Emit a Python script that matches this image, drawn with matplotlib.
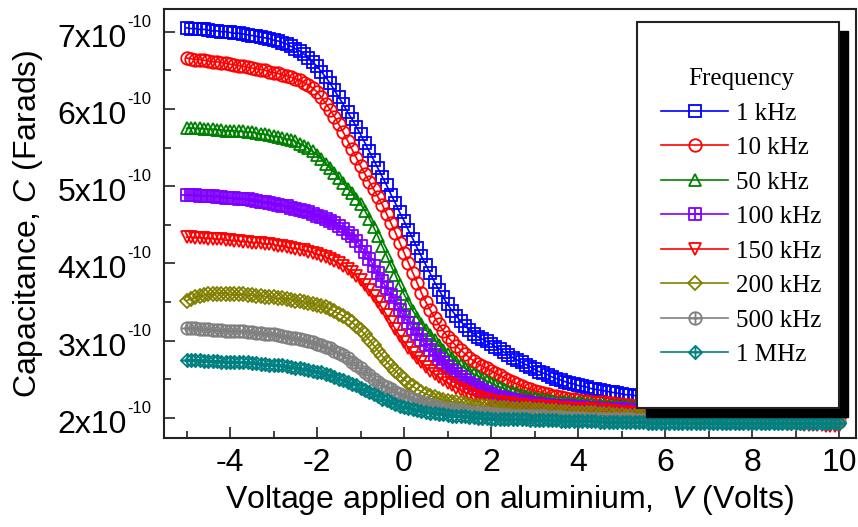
import numpy as np
import matplotlib
matplotlib.use("Agg")
import matplotlib.pyplot as plt
from matplotlib.path import Path
from matplotlib.patches import Rectangle
from matplotlib.ticker import MultipleLocator, FuncFormatter, NullFormatter

plt.rcParams["font.family"] = "Liberation Sans"
plt.rcParams["mathtext.fontset"] = "custom"
plt.rcParams["mathtext.rm"] = "Liberation Sans"
plt.rcParams["mathtext.it"] = "Liberation Sans:italic"
plt.rcParams["axes.unicode_minus"] = False

# gate sweep, -5 V to 10 V in 0.1 V steps
voltage = np.linspace(-5, 10, 151)

# capacitance, in units of 1e-10 F
cap_1k = [
    7.05, 7.04, 7.04, 7.03, 7.03, 7.02, 7.01, 7.01, 7.00, 7.00,
    6.99, 6.98, 6.98, 6.97, 6.96, 6.95, 6.94, 6.93, 6.92, 6.91,
    6.89, 6.88, 6.86, 6.84, 6.81, 6.78, 6.75, 6.71, 6.66, 6.61,
    6.55, 6.48, 6.41, 6.33, 6.24, 6.15, 6.06, 5.96, 5.87, 5.77,
    5.67, 5.56, 5.45, 5.34, 5.23, 5.12, 5.01, 4.89, 4.78, 4.66,
    4.55, 4.43, 4.32, 4.20, 4.09, 3.98, 3.87, 3.76, 3.66, 3.56,
    3.47, 3.39, 3.32, 3.25, 3.19, 3.14, 3.09, 3.05, 3.02, 2.99,
    2.96, 2.92, 2.89, 2.85, 2.82, 2.78, 2.75, 2.72, 2.69, 2.66,
    2.63, 2.60, 2.58, 2.56, 2.53, 2.51, 2.49, 2.47, 2.45, 2.44,
    2.42, 2.41, 2.40, 2.38, 2.37, 2.36, 2.35, 2.34, 2.33, 2.32,
    2.31, 2.30, 2.30, 2.29, 2.28, 2.28, 2.27, 2.27, 2.26, 2.26,
    2.25, 2.25, 2.24, 2.24, 2.23, 2.23, 2.23, 2.22, 2.22, 2.21,
    2.21, 2.21, 2.20, 2.20, 2.19, 2.19, 2.19, 2.18, 2.18, 2.17,
    2.17, 2.17, 2.16, 2.16, 2.15, 2.15, 2.15, 2.14, 2.14, 2.13,
    2.13, 2.13, 2.12, 2.12, 2.12, 2.12, 2.11, 2.11, 2.11, 2.10,
    2.10]
cap_10k = [
    6.66, 6.65, 6.64, 6.64, 6.63, 6.62, 6.61, 6.61, 6.60, 6.59,
    6.58, 6.57, 6.56, 6.55, 6.54, 6.53, 6.52, 6.51, 6.50, 6.48,
    6.47, 6.46, 6.44, 6.43, 6.41, 6.39, 6.37, 6.34, 6.31, 6.27,
    6.22, 6.15, 6.07, 5.99, 5.90, 5.80, 5.70, 5.59, 5.48, 5.37,
    5.26, 5.16, 5.06, 4.96, 4.86, 4.76, 4.64, 4.52, 4.40, 4.27,
    4.14, 4.01, 3.88, 3.75, 3.62, 3.50, 3.40, 3.30, 3.21, 3.13,
    3.05, 2.99, 2.93, 2.88, 2.83, 2.78, 2.74, 2.70, 2.67, 2.64,
    2.61, 2.58, 2.55, 2.52, 2.49, 2.46, 2.44, 2.41, 2.39, 2.37,
    2.35, 2.34, 2.32, 2.31, 2.29, 2.28, 2.27, 2.26, 2.25, 2.24,
    2.23, 2.22, 2.22, 2.21, 2.21, 2.20, 2.20, 2.19, 2.19, 2.18,
    2.18, 2.17, 2.17, 2.16, 2.16, 2.15, 2.15, 2.14, 2.14, 2.13,
    2.13, 2.12, 2.12, 2.11, 2.11, 2.10, 2.10, 2.10, 2.09, 2.09,
    2.08, 2.08, 2.08, 2.07, 2.07, 2.07, 2.06, 2.06, 2.06, 2.05,
    2.05, 2.05, 2.05, 2.04, 2.04, 2.04, 2.04, 2.03, 2.03, 2.03,
    2.03, 2.03, 2.02, 2.02, 2.02, 2.02, 2.02, 2.02, 2.01, 2.01,
    2.01]
cap_50k = [
    5.75, 5.75, 5.75, 5.75, 5.74, 5.74, 5.74, 5.73, 5.73, 5.72,
    5.72, 5.72, 5.71, 5.71, 5.70, 5.70, 5.69, 5.68, 5.67, 5.66,
    5.65, 5.64, 5.63, 5.61, 5.60, 5.58, 5.55, 5.52, 5.49, 5.45,
    5.40, 5.35, 5.29, 5.23, 5.17, 5.10, 5.04, 4.97, 4.91, 4.84,
    4.77, 4.68, 4.58, 4.47, 4.35, 4.22, 4.10, 3.97, 3.85, 3.72,
    3.60, 3.49, 3.39, 3.30, 3.22, 3.14, 3.07, 3.01, 2.94, 2.88,
    2.83, 2.78, 2.73, 2.68, 2.64, 2.60, 2.57, 2.54, 2.51, 2.48,
    2.45, 2.42, 2.40, 2.38, 2.35, 2.33, 2.32, 2.30, 2.29, 2.27,
    2.26, 2.25, 2.24, 2.23, 2.22, 2.21, 2.21, 2.20, 2.20, 2.19,
    2.19, 2.19, 2.18, 2.18, 2.17, 2.17, 2.17, 2.16, 2.16, 2.15,
    2.15, 2.15, 2.14, 2.14, 2.13, 2.13, 2.13, 2.12, 2.12, 2.11,
    2.11, 2.11, 2.10, 2.10, 2.09, 2.09, 2.09, 2.08, 2.08, 2.07,
    2.07, 2.07, 2.06, 2.06, 2.06, 2.05, 2.05, 2.05, 2.04, 2.04,
    2.04, 2.04, 2.03, 2.03, 2.03, 2.03, 2.02, 2.02, 2.02, 2.02,
    2.02, 2.01, 2.01, 2.01, 2.01, 2.01, 2.00, 2.00, 2.00, 2.00,
    2.00]
cap_100k = [
    4.88, 4.88, 4.88, 4.87, 4.87, 4.87, 4.87, 4.86, 4.86, 4.85,
    4.85, 4.85, 4.84, 4.84, 4.83, 4.82, 4.81, 4.80, 4.79, 4.78,
    4.77, 4.76, 4.75, 4.74, 4.72, 4.71, 4.69, 4.68, 4.66, 4.64,
    4.62, 4.60, 4.58, 4.55, 4.52, 4.48, 4.44, 4.39, 4.35, 4.29,
    4.23, 4.15, 4.06, 3.97, 3.87, 3.77, 3.68, 3.59, 3.49, 3.40,
    3.31, 3.23, 3.15, 3.08, 3.01, 2.94, 2.88, 2.82, 2.76, 2.71,
    2.66, 2.61, 2.57, 2.53, 2.49, 2.45, 2.42, 2.39, 2.36, 2.33,
    2.31, 2.29, 2.27, 2.26, 2.24, 2.23, 2.22, 2.21, 2.20, 2.19,
    2.18, 2.18, 2.17, 2.17, 2.16, 2.16, 2.16, 2.15, 2.15, 2.14,
    2.14, 2.14, 2.13, 2.13, 2.13, 2.12, 2.12, 2.12, 2.11, 2.11,
    2.11, 2.10, 2.10, 2.10, 2.09, 2.09, 2.09, 2.08, 2.08, 2.08,
    2.07, 2.07, 2.07, 2.06, 2.06, 2.06, 2.05, 2.05, 2.05, 2.04,
    2.04, 2.04, 2.04, 2.03, 2.03, 2.03, 2.03, 2.02, 2.02, 2.02,
    2.02, 2.01, 2.01, 2.01, 2.01, 2.01, 2.00, 2.00, 2.00, 2.00,
    2.00, 1.99, 1.99, 1.99, 1.99, 1.99, 1.99, 1.98, 1.98, 1.98,
    1.98]
cap_150k = [
    4.34, 4.34, 4.33, 4.33, 4.33, 4.32, 4.32, 4.31, 4.31, 4.30,
    4.30, 4.29, 4.29, 4.28, 4.28, 4.27, 4.27, 4.26, 4.25, 4.25,
    4.24, 4.23, 4.22, 4.21, 4.20, 4.19, 4.18, 4.17, 4.15, 4.14,
    4.12, 4.10, 4.08, 4.06, 4.03, 4.00, 3.97, 3.93, 3.89, 3.84,
    3.79, 3.72, 3.65, 3.58, 3.50, 3.42, 3.33, 3.24, 3.15, 3.06,
    2.98, 2.91, 2.84, 2.78, 2.72, 2.66, 2.61, 2.57, 2.53, 2.49,
    2.45, 2.42, 2.39, 2.36, 2.33, 2.31, 2.29, 2.27, 2.25, 2.23,
    2.22, 2.21, 2.20, 2.19, 2.19, 2.18, 2.17, 2.17, 2.16, 2.16,
    2.15, 2.15, 2.14, 2.14, 2.14, 2.13, 2.13, 2.13, 2.12, 2.12,
    2.12, 2.11, 2.11, 2.11, 2.10, 2.10, 2.10, 2.09, 2.09, 2.08,
    2.08, 2.08, 2.07, 2.07, 2.06, 2.06, 2.05, 2.05, 2.04, 2.04,
    2.03, 2.03, 2.02, 2.02, 2.01, 2.01, 2.00, 2.00, 1.99, 1.99,
    1.98, 1.98, 1.98, 1.97, 1.97, 1.96, 1.96, 1.96, 1.95, 1.95,
    1.95, 1.94, 1.94, 1.94, 1.93, 1.93, 1.93, 1.93, 1.92, 1.92,
    1.92, 1.92, 1.91, 1.91, 1.91, 1.91, 1.91, 1.90, 1.90, 1.90,
    1.90]
cap_200k = [
    3.52, 3.54, 3.56, 3.58, 3.59, 3.60, 3.60, 3.61, 3.61, 3.61,
    3.60, 3.60, 3.60, 3.60, 3.59, 3.59, 3.58, 3.58, 3.57, 3.57,
    3.56, 3.55, 3.55, 3.54, 3.53, 3.52, 3.51, 3.50, 3.49, 3.48,
    3.46, 3.45, 3.43, 3.41, 3.38, 3.35, 3.32, 3.28, 3.24, 3.19,
    3.14, 3.08, 3.01, 2.94, 2.87, 2.80, 2.73, 2.67, 2.61, 2.55,
    2.50, 2.45, 2.41, 2.37, 2.34, 2.31, 2.29, 2.27, 2.25, 2.23,
    2.22, 2.21, 2.20, 2.19, 2.18, 2.17, 2.16, 2.16, 2.15, 2.15,
    2.14, 2.14, 2.13, 2.13, 2.13, 2.12, 2.12, 2.11, 2.11, 2.11,
    2.10, 2.10, 2.10, 2.09, 2.09, 2.09, 2.08, 2.08, 2.08, 2.07,
    2.07, 2.07, 2.06, 2.06, 2.06, 2.05, 2.05, 2.05, 2.04, 2.04,
    2.04, 2.03, 2.03, 2.03, 2.02, 2.02, 2.02, 2.01, 2.01, 2.01,
    2.00, 2.00, 2.00, 2.00, 1.99, 1.99, 1.99, 1.99, 1.98, 1.98,
    1.98, 1.98, 1.98, 1.97, 1.97, 1.97, 1.97, 1.97, 1.97, 1.96,
    1.96, 1.96, 1.96, 1.96, 1.96, 1.96, 1.96, 1.95, 1.95, 1.95,
    1.95, 1.95, 1.95, 1.95, 1.95, 1.95, 1.95, 1.95, 1.95, 1.95,
    1.95]
cap_500k = [
    3.16, 3.16, 3.16, 3.15, 3.15, 3.15, 3.14, 3.14, 3.14, 3.13,
    3.13, 3.13, 3.12, 3.12, 3.11, 3.11, 3.10, 3.10, 3.09, 3.09,
    3.08, 3.07, 3.06, 3.05, 3.04, 3.03, 3.02, 3.01, 2.99, 2.98,
    2.96, 2.94, 2.92, 2.90, 2.87, 2.84, 2.81, 2.77, 2.73, 2.68,
    2.64, 2.60, 2.55, 2.51, 2.47, 2.43, 2.40, 2.37, 2.34, 2.31,
    2.29, 2.27, 2.25, 2.23, 2.21, 2.19, 2.17, 2.16, 2.14, 2.13,
    2.12, 2.11, 2.10, 2.10, 2.09, 2.08, 2.07, 2.07, 2.06, 2.06,
    2.05, 2.05, 2.04, 2.04, 2.04, 2.03, 2.03, 2.03, 2.03, 2.02,
    2.02, 2.02, 2.02, 2.01, 2.01, 2.01, 2.01, 2.00, 2.00, 2.00,
    2.00, 2.00, 1.99, 1.99, 1.99, 1.99, 1.99, 1.98, 1.98, 1.98,
    1.98, 1.98, 1.98, 1.97, 1.97, 1.97, 1.97, 1.97, 1.97, 1.97,
    1.96, 1.96, 1.96, 1.96, 1.96, 1.96, 1.96, 1.96, 1.96, 1.96,
    1.96, 1.96, 1.96, 1.95, 1.95, 1.95, 1.95, 1.95, 1.95, 1.95,
    1.95, 1.95, 1.95, 1.95, 1.95, 1.95, 1.95, 1.95, 1.95, 1.95,
    1.95, 1.95, 1.95, 1.95, 1.95, 1.95, 1.95, 1.95, 1.95, 1.95,
    1.95]
cap_1M = [
    2.75, 2.75, 2.75, 2.75, 2.74, 2.74, 2.74, 2.74, 2.73, 2.73,
    2.73, 2.73, 2.72, 2.72, 2.72, 2.71, 2.71, 2.70, 2.70, 2.69,
    2.69, 2.68, 2.68, 2.67, 2.66, 2.65, 2.64, 2.63, 2.62, 2.61,
    2.60, 2.59, 2.57, 2.55, 2.53, 2.51, 2.49, 2.46, 2.44, 2.42,
    2.39, 2.36, 2.33, 2.31, 2.28, 2.25, 2.23, 2.20, 2.18, 2.16,
    2.14, 2.13, 2.11, 2.10, 2.09, 2.08, 2.07, 2.06, 2.05, 2.05,
    2.04, 2.03, 2.03, 2.02, 2.02, 2.01, 2.01, 2.00, 2.00, 2.00,
    1.99, 1.99, 1.99, 1.99, 1.98, 1.98, 1.98, 1.98, 1.98, 1.97,
    1.97, 1.97, 1.97, 1.97, 1.97, 1.97, 1.96, 1.96, 1.96, 1.96,
    1.96, 1.96, 1.96, 1.96, 1.96, 1.95, 1.95, 1.95, 1.95, 1.95,
    1.95, 1.95, 1.95, 1.95, 1.95, 1.95, 1.94, 1.94, 1.94, 1.94,
    1.94, 1.94, 1.94, 1.94, 1.94, 1.94, 1.94, 1.94, 1.94, 1.94,
    1.94, 1.94, 1.94, 1.94, 1.94, 1.93, 1.93, 1.93, 1.93, 1.93,
    1.93, 1.93, 1.93, 1.93, 1.93, 1.93, 1.93, 1.93, 1.93, 1.93,
    1.93, 1.93, 1.93, 1.93, 1.93, 1.93, 1.93, 1.93, 1.93, 1.93,
    1.93]

labels = ["1 kHz", "10 kHz", "50 kHz", "100 kHz", "150 kHz", "200 kHz", "500 kHz", "1 MHz"]
series = [cap_1k, cap_10k, cap_50k, cap_100k, cap_150k, cap_200k, cap_500k, cap_1M]
colors = ["#0000FF", "#FF0000", "#008000", "#8000FF", "#FF0000", "#808000", "#808080", "#008080"]

ytick_vals = [2, 3, 4, 5, 6, 7]


def with_cross(outline):
    cross = Path([[-1, 0], [1, 0], [0, -1], [0, 1]],
                 [Path.MOVETO, Path.LINETO, Path.MOVETO, Path.LINETO])
    return Path.make_compound_path(outline, cross)


sq_plus = with_cross(Path([[-1, -1], [1, -1], [1, 1], [-1, 1], [-1, -1]], closed=True))
circ_plus = with_cross(Path.unit_circle())
dia_plus = with_cross(Path([[0, 1], [1, 0], [0, -1], [-1, 0], [0, 1]], closed=True))

markers = ["s", "o", "^", sq_plus, "v", "D", circ_plus, dia_plus]
msizes = [8.3, 9, 9, 8.3, 9, 6.8, 9, 9.5]

for arr in series:
    assert len(arr) == len(voltage)

fig = plt.figure(figsize=(8.58, 5.27), dpi=100)
ax = fig.add_axes([164 / 858, (527 - 438) / 527, 692 / 858, 429 / 527])

for vals, lab, col, mk, ms in zip(series, labels, colors, markers, msizes):
    ax.plot(voltage, vals, color=col, lw=1.2, marker=mk, ms=ms, mfc="none",
            mec=col, mew=1.3, label=lab)

ax.set_xlim(-5.52, 10.39)
ax.set_ylim(1.74, 7.294)
ax.xaxis.set_major_locator(MultipleLocator(2))
ax.xaxis.set_minor_locator(MultipleLocator(1))
ax.yaxis.set_major_locator(MultipleLocator(1))
ax.yaxis.set_minor_locator(MultipleLocator(0.5))
ax.yaxis.set_major_formatter(NullFormatter())
ax.xaxis.set_major_formatter(FuncFormatter(lambda v, p: "%d" % round(v)))

ax.tick_params(which="both", direction="in", top=False, right=False,
               labelsize=23, width=1.2, color="#222222")
ax.tick_params(which="major", length=8, pad=7)
ax.tick_params(which="minor", length=5)
for sp in ax.spines.values():
    sp.set_linewidth(1.5)
    sp.set_color("#222222")

# y tick labels in the "7x10^-10" style with a small exponent
ytrans = ax.get_yaxis_transform()
for v in ytick_vals:
    ax.annotate("%dx10" % v, xy=(-0.0535, v), xycoords=ytrans,
                xytext=(0, -10.8), textcoords="offset points",
                ha="right", va="baseline", fontsize=23, annotation_clip=False)
    ax.annotate("-10", xy=(-0.0535, v), xycoords=ytrans,
                xytext=(0.5, 3.6), textcoords="offset points",
                ha="left", va="baseline", fontsize=12, annotation_clip=False)

ax.set_xlabel(r"Voltage applied on aluminium,  $\mathit{V}$ (Volts)", fontsize=23, labelpad=4)
ax.set_ylabel(r"Capacitance, $\mathit{C}$ (Farads)", fontsize=23)
ax.yaxis.set_label_coords(-0.172, 0.5)

# legend box with hard black shadow
bx0, by0, bw, bh = 0.684, 0.070, 0.291, 0.900
ax.add_patch(Rectangle((bx0 + 0.013, by0 - 0.021), bw, bh, transform=ax.transAxes,
                       facecolor="black", edgecolor="black", zorder=5))
ax.add_patch(Rectangle((bx0, by0), bw, bh, transform=ax.transAxes,
                       facecolor="white", edgecolor="#222222", lw=1.5, zorder=6))

leg = ax.legend(loc="upper left", bbox_to_anchor=(0.718, 0.862), frameon=False,
                title="Frequency", prop={"family": "Liberation Serif", "size": 18},
                title_fontproperties={"family": "Liberation Serif", "size": 18},
                handlelength=2.7, handletextpad=0.3, labelspacing=0.48,
                borderpad=0, borderaxespad=0)
leg.set_zorder(7)

fig.savefig("out.png", dpi=100)
